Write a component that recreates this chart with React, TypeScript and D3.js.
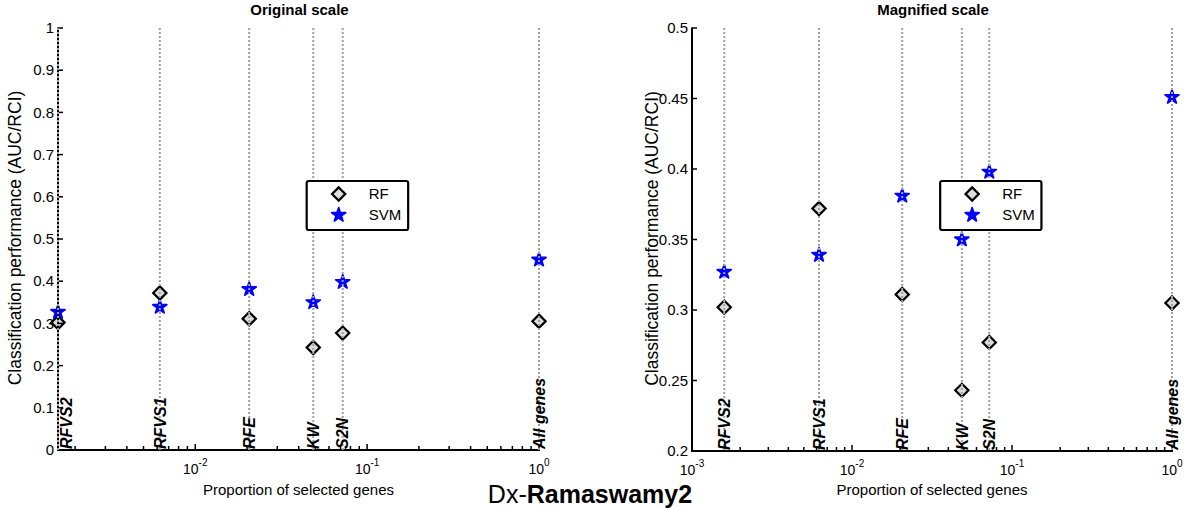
import React from "react";
import * as d3 from "d3";

// ---- data ----
const methods = ["RFVS2", "RFVS1", "RFE", "KW", "S2N", "All genes"];
const proportions = [0.00159, 0.00622, 0.0206, 0.0486, 0.0721, 1];
const rfValues = [0.302, 0.372, 0.311, 0.243, 0.277, 0.305];
const svmValues = [0.327, 0.339, 0.381, 0.35, 0.398, 0.451];
const seriesNames = ["RF", "SVM"];
const panelTitles = ["Original scale", "Magnified scale"];
const yDomains: [number, number][] = [
  [0, 1],
  [0.2, 0.5],
];
const xDomains: [number, number][] = [
  [proportions[0], 1],
  [0.001, 1],
];
const yTickCounts = [10, 6];
const xLabel = "Proportion of selected genes";
const yLabel = "Classification performance (AUC/RCI)";

const W = 1200;
const H = 508;
const FONT = "'Liberation Sans', Arial, Helvetica, sans-serif";

const panelsLayout = [
  { x0: 58, x1: 539, y0: 28, y1: 450, yLabelX: 15 },
  { x0: 692, x1: 1172, y0: 28, y1: 451, yLabelX: 652 },
];

const diamond = d3.symbol(d3.symbolSquare, 88)() as string;
const star = d3.symbol(d3.symbolStar, 60)() as string;

function Diamond({ x, y }: { x: number; y: number }) {
  return (
    <path
      d={diamond}
      transform={`translate(${x},${y}) rotate(45)`}
      fill="#dcdcdc"
      stroke="#000"
      strokeWidth={2.2}
    />
  );
}
function Star({ x, y }: { x: number; y: number }) {
  return (
    <path
      d={star}
      transform={`translate(${x},${y})`}
      fill="#0000ff"
      stroke="#0000ff"
      strokeWidth={1.8}
      strokeLinejoin="round"
    />
  );
}

function Panel({ idx }: { idx: number }) {
  const L = panelsLayout[idx];
  const xs = d3.scaleLog().domain(xDomains[idx]).range([L.x0, L.x1]);
  const ys = d3.scaleLinear().domain(yDomains[idx]).range([L.y1, L.y0]);
  const [dmin, dmax] = xDomains[idx];
  const eMin = Math.floor(Math.log10(dmin) + 1e-9);
  const eMax = Math.round(Math.log10(dmax));
  const major: number[] = [];
  const minor: number[] = [];
  for (let e = eMin; e <= eMax; e++) {
    const p = Math.pow(10, e);
    if (p >= dmin * 0.9999 && p <= dmax * 1.0001) major.push(e);
    for (let k = 2; k <= 9; k++) {
      const v = k * p;
      if (v >= dmin && v <= dmax) minor.push(v);
    }
  }
  const yTicks = ys.ticks(yTickCounts[idx]);
  const cx = (L.x0 + L.x1) / 2;
  const cy = (L.y0 + L.y1) / 2;
  const w = L.x1 - L.x0;
  const legX = L.x0 + 0.517 * w;
  const legW = 0.211 * w;
  return (
    <g>
      {/* title */}
      <text x={cx + 1} y={15} textAnchor="middle" fontSize={15} fontWeight="bold" fontFamily={FONT}>
        {panelTitles[idx]}
      </text>
      {/* markers */}
      {proportions.map((p, i) => (
        <Diamond key={"rf" + i} x={xs(p)} y={ys(rfValues[i])} />
      ))}
      {proportions.map((p, i) => (
        <Star key={"svm" + i} x={xs(p)} y={ys(svmValues[i])} />
      ))}
      {/* axes */}
      <line x1={L.x0} x2={L.x0} y1={L.y0 - 0.5} y2={L.y1 + 1} stroke="#000" strokeWidth={2} />
      <line x1={L.x0 - 1} x2={L.x1 + 1} y1={L.y1} y2={L.y1} stroke="#000" strokeWidth={2.2} />
      {yTicks.map((t) => (
        <g key={"yt" + t}>
          <line x1={L.x0} x2={L.x0 + 5} y1={ys(t)} y2={ys(t)} stroke="#000" strokeWidth={1.5} />
          <text
            x={L.x0 - 4}
            y={ys(t)}
            dy="0.35em"
            textAnchor="end"
            fontSize={15}
            fontFamily={FONT}
          >
            {String(+t.toFixed(2))}
          </text>
        </g>
      ))}
      {minor.map((v) => (
        <line key={"mn" + v} x1={xs(v)} x2={xs(v)} y1={L.y1} y2={L.y1 - 4} stroke="#000" strokeWidth={1.5} />
      ))}
      {major.map((e) => (
        <g key={"mj" + e}>
          <line x1={xs(Math.pow(10, e))} x2={xs(Math.pow(10, e))} y1={L.y1} y2={L.y1 - 6} stroke="#000" strokeWidth={1.5} />
          <text x={xs(Math.pow(10, e))} y={L.y1 + 24} textAnchor="middle" fontSize={14} fontFamily={FONT}>
            <tspan>10</tspan>
            <tspan fontSize={10} dy={-8}>
              {String(e)}
            </tspan>
          </text>
        </g>
      ))}
      {/* dotted method lines */}
      {proportions.map((p, i) => (
        <line
          key={"vl" + i}
          x1={xs(p)}
          x2={xs(p)}
          y1={L.y0}
          y2={L.y1}
          stroke="#a0a0a0"
          strokeWidth={2}
          strokeDasharray="2,2"
        />
      ))}
      {/* method labels */}
      {proportions.map((p, i) => {
        const lx = Math.max(xs(p), L.x0 + 8);
        return (
          <text
            key={"ml" + i}
            transform={`translate(${lx},${L.y1 - 1}) rotate(-90)`}
            dy="0.36em"
            fontSize={16}
            fontWeight="bold"
            fontStyle="italic"
            fontFamily={FONT}
          >
            {methods[i]}
          </text>
        );
      })}
      {/* axis labels */}
      <text x={cx} y={495} textAnchor="middle" fontSize={15} fontFamily={FONT}>
        {xLabel}
      </text>
      <text
        transform={`translate(${L.yLabelX},${cy - 1}) rotate(-90)`}
        dy="0.36em"
        textAnchor="middle"
        fontSize={17.5}
        fontFamily={FONT}
      >
        {yLabel}
      </text>
      {/* legend */}
      <rect x={legX} y={181} width={legW} height={49} rx={2} fill="#fff" stroke="#000" strokeWidth={2.2} />
      <Diamond x={legX + 32} y={194} />
      <Star x={legX + 32} y={215} />
      <text x={legX + 62} y={199} fontSize={15} fontFamily={FONT}>
        {seriesNames[0]}
      </text>
      <text x={legX + 62} y={220} fontSize={15} fontFamily={FONT}>
        {seriesNames[1]}
      </text>
    </g>
  );
}

export default function App() {
  return (
    <svg
      width={W}
      height={H}
      viewBox={`0 0 ${W} ${H}`}
      style={{ position: "absolute", left: 0, top: 0, display: "block", background: "#fff" }}
    >
      <rect x={0} y={0} width={W} height={H} fill="#fff" />
      <Panel idx={0} />
      <Panel idx={1} />
      <text x={590} y={503} textAnchor="middle" fontSize={25} fontFamily={FONT}>
        <tspan>Dx-</tspan>
        <tspan fontWeight="bold">Ramaswamy2</tspan>
      </text>
    </svg>
  );
}
